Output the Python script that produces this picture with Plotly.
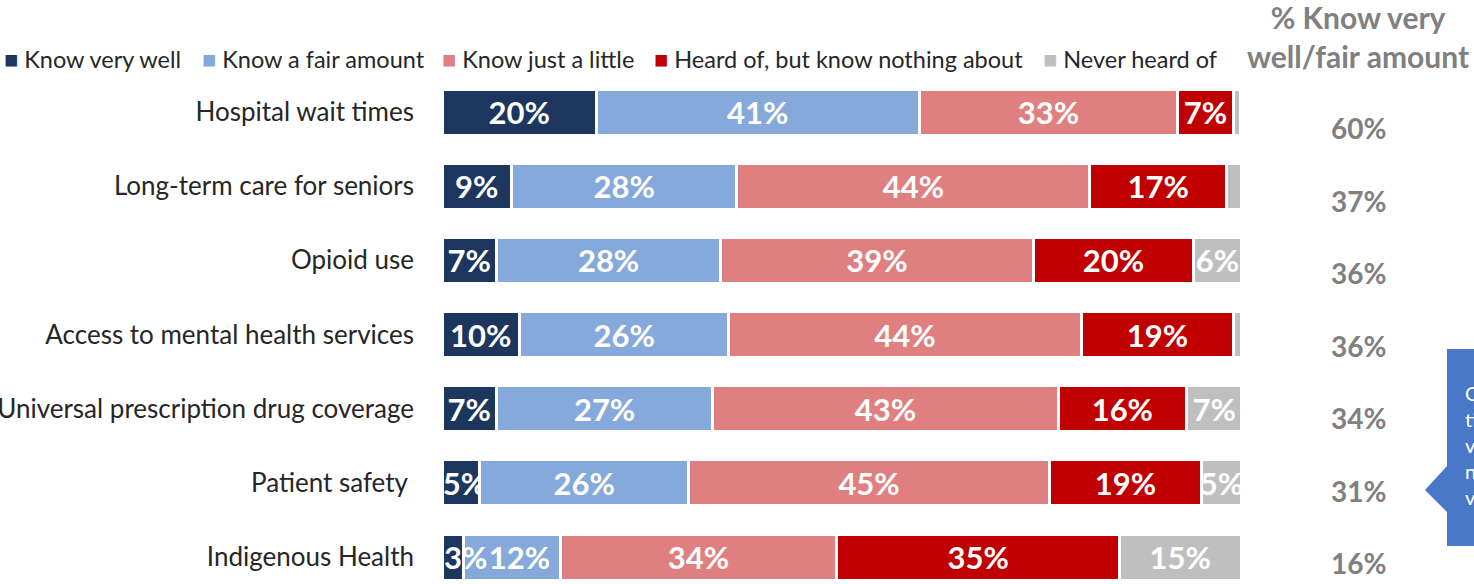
import plotly.graph_objects as go

categories = ["Hospital wait times", "Long-term care for seniors", "Opioid use",
              "Access to mental health services", "Universal prescription drug coverage",
              "Patient safety", "Indigenous Health"]
category_labels = ["Hospital wait times", "Long-term care for seniors", "Opioid use",
                   "Access to mental health services", "Universal prescription drug coverage",
                   "Patient safety\u00a0", "Indigenous Health"]
series_names = ["Know very well", "Know a fair amount", "Know just a little",
                "Heard of, but know nothing about", "Never heard of"]

know_very_well = [19.3, 8.7, 6.8, 9.7, 6.8, 4.7, 2.7]
know_fair_amount = [40.4, 28.2, 28.1, 26.2, 27.1, 26.2, 12.1]
know_just_little = [32.4, 44.2, 39.1, 44.1, 43.2, 45.1, 34.6]
heard_know_nothing = [6.9, 17.1, 20.1, 19.1, 16.1, 19.1, 35.4]
never_heard = [0.9, 1.9, 5.9, 0.9, 6.9, 4.9, 15.2]

labels_very_well = ["20%", "9%", "7%", "10%", "7%", "5%", "3%"]
labels_fair_amount = ["41%", "28%", "28%", "26%", "27%", "26%", "12%"]
labels_just_little = ["33%", "44%", "39%", "44%", "43%", "45%", "34%"]
labels_know_nothing = ["7%", "17%", "20%", "19%", "16%", "19%", "35%"]
labels_never_heard = ["", "", "6%", "", "7%", "5%", "15%"]

net_header = "% Know very<br>well/fair amount"
net_labels = ["60%", "37%", "36%", "36%", "34%", "31%", "16%"]

callout_text = "Outside of wait<br>times, most do<br>very little or<br>not know these<br>very well"

colors = ["#1c365e", "#86a9dc", "#e07f80", "#c00000", "#bfbfbf"]
series_values = [know_very_well, know_fair_amount, know_just_little, heard_know_nothing, never_heard]
series_labels = [labels_very_well, labels_fair_amount, labels_just_little, labels_know_nothing, labels_never_heard]

# style: leading padding (no-break spaces) nudging labels of thin bars to the right
label_lead_pad = [[0, 0, 0, 0, 0, 1, 0], [0, 0, 0, 0, 0, 0, 2], [0] * 7, [0] * 7, [0] * 7]
THIN = 4.0  # first-series bars thinner than this get their label drawn on top, from the bar start

W, H = 1474, 584
X_MAX = 100.5
ML, MT, MB = 442, 75, 0
PW = round(799 * X_MAX / 100)
MR = W - ML - PW
PH = H - MT - MB


def px_x(p):
    return (p - ML) / PW


def px_y(q):
    return (H - MB - q) / PH


FONT = "Lato, 'Open Sans', sans-serif"
BAR_FONT = dict(family=FONT, size=31, color="white", weight="bold")

fig = go.Figure()
annotations = []
for k, (name, vals, labs, col, pads) in enumerate(zip(series_names, series_values, series_labels,
                                                      colors, label_lead_pad)):
    shown = []
    for cat, v, p, t in zip(categories, vals, pads, labs):
        if k == 0 and v < THIN and t:
            shown.append("")
            annotations.append(dict(xref="x", yref="y", x=0, y=cat, xanchor="left",
                                    yanchor="middle", showarrow=False, text=t, font=BAR_FONT))
        else:
            shown.append("\u00a0" * p + t)
    fig.add_trace(go.Bar(
        y=categories, x=vals, name=name, orientation="h",
        marker=dict(color=col, line=dict(color="white", width=3)),
        text=shown, textposition="inside", insidetextanchor="middle",
        textangle=0, constraintext="none", cliponaxis=False,
        textfont=BAR_FONT, hoverinfo="skip", showlegend=False,
    ))

# custom legend
legend_x = [2, 200, 440, 652, 1041]
for name, col, lx in zip(series_names, colors, legend_x):
    annotations.append(dict(
        xref="paper", yref="paper", x=px_x(lx), y=px_y(59),
        xanchor="left", yanchor="middle", showarrow=False,
        text=f"<span style='color:{col}'>■</span> {name}",
        font=dict(family=FONT, size=23.5, color="#262626"),
    ))

# right column header and values
annotations.append(dict(
    xref="paper", yref="paper", x=px_x(1358), y=px_y(36),
    xanchor="center", yanchor="middle", showarrow=False,
    text=net_header, align="center",
    font=dict(family=FONT, size=30, color="#808080", weight="bold"),
))
net_y_px = [128, 200.5, 273, 345.5, 418, 490.5, 563]
for lab, ypx in zip(net_labels, net_y_px):
    annotations.append(dict(
        xref="paper", yref="paper", x=px_x(1358), y=px_y(ypx),
        xanchor="center", yanchor="middle", showarrow=False, text=lab,
        font=dict(family=FONT, size=28, color="#808080", weight="bold"),
    ))

# callout text
annotations.append(dict(
    xref="paper", yref="paper", x=px_x(1463), y=px_y(445),
    xanchor="left", yanchor="middle", showarrow=False, text=callout_text,
    align="left", font=dict(family=FONT, size=20, color="white"),
))

callout_path = (
    f"M {px_x(1447)},{px_y(349)} L {px_x(1520)},{px_y(349)} L {px_x(1520)},{px_y(546)} "
    f"L {px_x(1447)},{px_y(546)} L {px_x(1447)},{px_y(512)} L {px_x(1425)},{px_y(490)} "
    f"L {px_x(1447)},{px_y(466)} Z"
)

fig.update_layout(
    width=W, height=H,
    margin=dict(l=ML, r=MR, t=MT, b=MB, pad=0),
    barmode="stack", bargap=0.38,
    plot_bgcolor="white", paper_bgcolor="white",
    font=dict(family=FONT, color="#262626"),
    xaxis=dict(range=[0, X_MAX], visible=False, fixedrange=True),
    yaxis=dict(categoryorder="array", categoryarray=categories,
               tickmode="array", tickvals=categories, ticktext=category_labels,
               range=[6.364, -0.5], showgrid=False, zeroline=False, showline=False,
               ticks="", ticklabelstandoff=27, automargin=False, fixedrange=True,
               tickfont=dict(family=FONT, size=26, color="#262626")),
    annotations=annotations,
    shapes=[dict(type="path", xref="paper", yref="paper", path=callout_path,
                 fillcolor="#4a78c8", line=dict(width=0), layer="below")],
)

fig.write_html("out.html", config={"displayModeBar": False},
               post_script="document.body.style.margin='0';document.body.style.overflow='hidden';")
